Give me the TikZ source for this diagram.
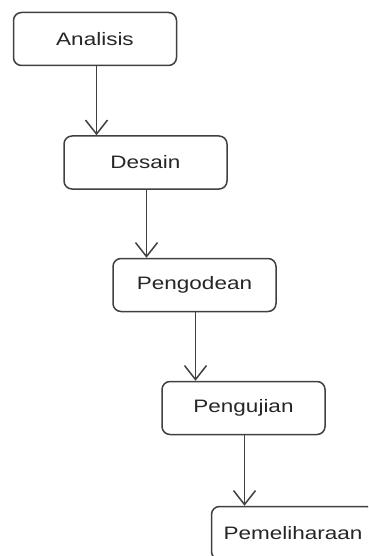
\documentclass[tikz,border=0pt]{standalone}
\usepackage{fontspec}
\setmainfont{Liberation Sans}
\usetikzlibrary{arrows.meta}
\newcommand\widetext[1]{\scalebox{1.25}[1]{#1}}
\tikzset{
  stage/.style={draw=black!75, line width=1.5pt, rounded corners=8pt, fill=white,
    minimum width=163pt, minimum height=53pt, inner sep=0pt,
    font=\fontsize{18pt}{20pt}\selectfont, text=black!85},
  flow/.style={draw=black!75, line width=1.5pt,
    -{Straight Barb[length=14pt,width=22pt,line width=1.5pt]}}
}
\begin{document}
\begin{tikzpicture}[x=1pt,y=-1pt]
\useasboundingbox (0,0) rectangle (368,556);
\clip (0,0) rectangle (368,556);
\node[stage] (a) at (95,39) {\widetext{Analisis}};
\node[stage] (b) at (145.5,162.5) {\widetext{Desain}};
\node[stage] (c) at (194.5,285) {\widetext{Pengodean}};
\node[stage] (d) at (243.5,408) {\widetext{Pengujian}};
\node[stage] (e) at (293,533) {\widetext{Pemeliharaan}};
\draw[flow] ([xshift=1.5pt]a.south) -- ([xshift=1.5pt]a.south |- b.north);
\draw[flow] ([xshift=1pt]b.south) -- ([xshift=1pt]b.south |- c.north);
\draw[flow] ([xshift=1pt]c.south) -- ([xshift=1pt]c.south |- d.north);
\draw[flow] ([xshift=1pt]d.south) -- ([xshift=1pt]d.south |- e.north);
\end{tikzpicture}
\end{document}
